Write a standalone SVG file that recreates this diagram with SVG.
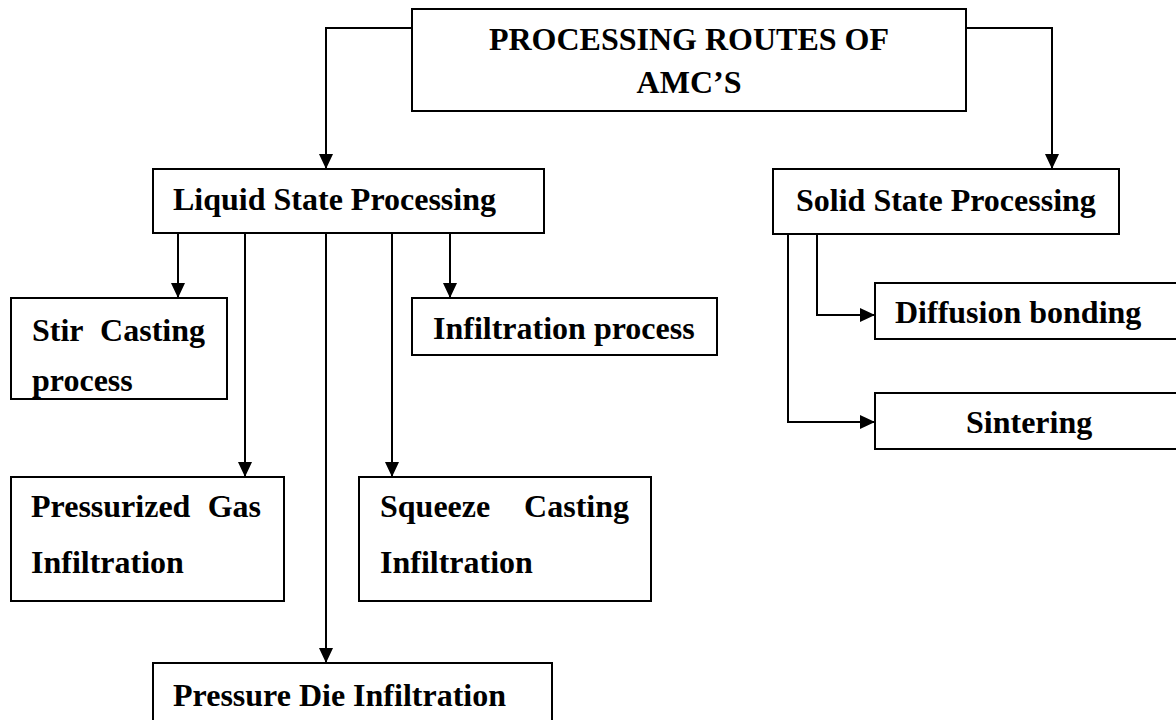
<svg xmlns="http://www.w3.org/2000/svg" width="1176" height="720" viewBox="0 0 1176 720">
<defs>
<style>
.box{fill:#fff;stroke:#000;stroke-width:2}
.lbl{font-family:"Liberation Serif","Times New Roman",serif;font-weight:bold;font-size:32px;fill:#000}
.c{text-anchor:middle}
.e{text-anchor:end}
.ln{fill:none;stroke:#000;stroke-width:2}
.arr{marker-end:url(#ah)}
</style>
<marker id="ah" markerUnits="userSpaceOnUse" markerWidth="15" markerHeight="14" refX="15" refY="7" orient="auto">
<path d="M0,0 L15,7 L0,14 z" fill="#000"/>
</marker>
</defs>
<rect width="1176" height="720" fill="#fff"/>
<g id="connectors">
<path class="ln arr" d="M412,28 H326 V169"/>
<path class="ln arr" d="M966,28 H1052 V169"/>
<path class="ln arr" d="M178,233 V298"/>
<path class="ln arr" d="M245,233 V477"/>
<path class="ln arr" d="M326,233 V663"/>
<path class="ln arr" d="M392,233 V477"/>
<path class="ln arr" d="M450,233 V298"/>
<path class="ln arr" d="M817,234 V315 H875"/>
<path class="ln arr" d="M788,234 V422 H875"/>
</g>
<g id="root">
<rect class="box" x="412" y="9" width="554" height="102"/>
<text class="lbl c" x="689" y="50">PROCESSING ROUTES OF</text>
<text class="lbl c" x="689" y="93">AMC’S</text>
</g>
<g id="liquid">
<rect class="box" x="153" y="169" width="391" height="64"/>
<text class="lbl" x="173" y="210">Liquid State Processing</text>
</g>
<g id="solid">
<rect class="box" x="773" y="169" width="346" height="65"/>
<text class="lbl" x="796" y="211">Solid State Processing</text>
</g>
<g id="stir">
<rect class="box" x="11" y="298" width="216" height="101"/>
<text class="lbl"><tspan x="32" y="341">Stir</tspan><tspan class="e" x="205" y="341">Casting</tspan></text>
<text class="lbl" x="32" y="391">process</text>
</g>
<g id="infiltration">
<rect class="box" x="412" y="298" width="305" height="57"/>
<text class="lbl" x="433" y="339">Infiltration process</text>
</g>
<g id="diffusion">
<rect class="box" x="875" y="283" width="310" height="56"/>
<text class="lbl" x="895" y="323">Diffusion bonding</text>
</g>
<g id="sintering">
<rect class="box" x="875" y="393" width="310" height="56"/>
<text class="lbl" x="966" y="433">Sintering</text>
</g>
<g id="pressurized">
<rect class="box" x="11" y="477" width="273" height="124"/>
<text class="lbl"><tspan x="31" y="517">Pressurized</tspan><tspan class="e" x="261" y="517">Gas</tspan></text>
<text class="lbl" x="31" y="573">Infiltration</text>
</g>
<g id="squeeze">
<rect class="box" x="359" y="477" width="292" height="124"/>
<text class="lbl"><tspan x="380" y="517">Squeeze</tspan><tspan class="e" x="629" y="517">Casting</tspan></text>
<text class="lbl" x="380" y="573">Infiltration</text>
</g>
<g id="pressuredie">
<rect class="box" x="153" y="663" width="399" height="70"/>
<text class="lbl" x="173" y="706">Pressure Die Infiltration</text>
</g>
</svg>
